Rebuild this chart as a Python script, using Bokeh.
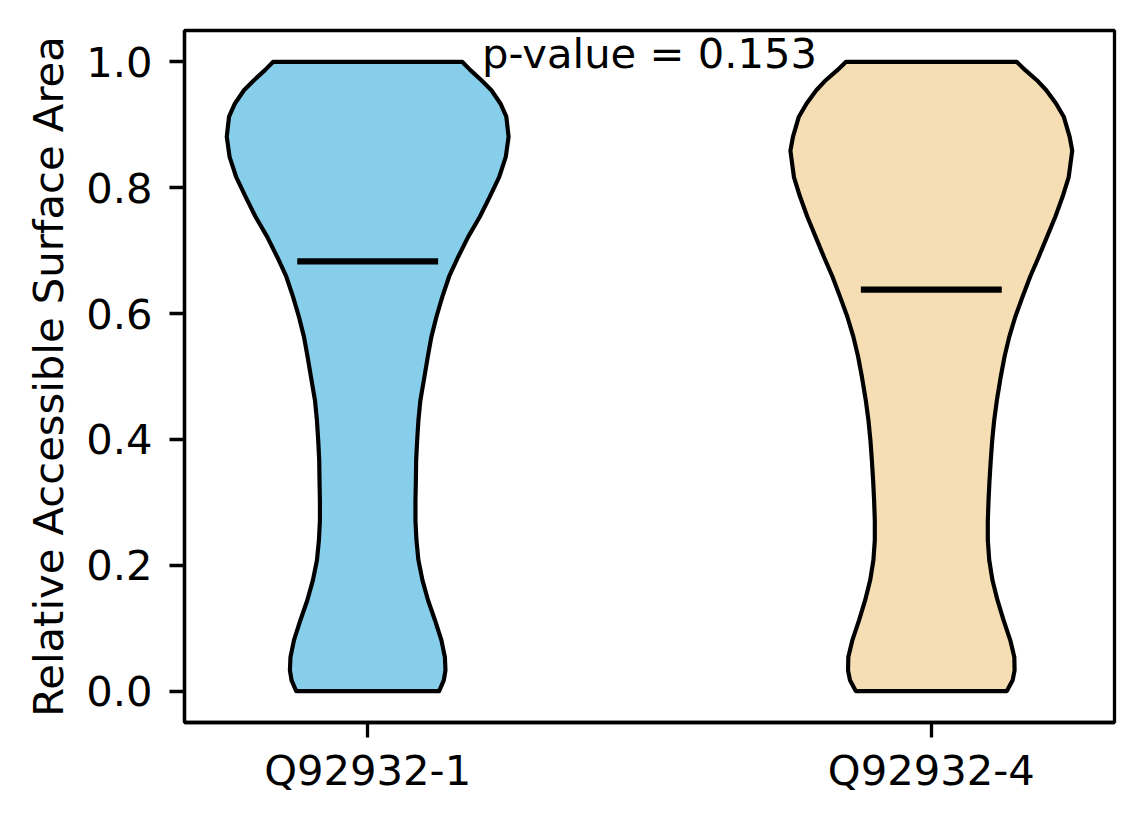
from bokeh.plotting import figure
from bokeh.models import Range1d, FixedTicker, Label
from bokeh.embed import file_html
from bokeh.resources import INLINE

# ---------------- data ----------------
categories = ["Q92932-1", "Q92932-4"]
positions = [1, 2]
colors = ["#87CEEB", "#F5DEB3"]
means = [0.683, 0.638]
p_value_text = "p-value = 0.153"
y_ticks = [0.0, 0.2, 0.4, 0.6, 0.8, 1.0]
y_label = "Relative Accessible Surface Area"

# violin density profiles (relative half-width, max = 1) at RSA levels
v1_y = [1.0, 0.987, 0.971, 0.955, 0.934, 0.913, 0.881, 0.849, 0.817, 0.786, 0.754, 0.722,
        0.690, 0.659, 0.627, 0.595, 0.563, 0.532, 0.500, 0.462, 0.430, 0.398, 0.367, 0.335,
        0.303, 0.271, 0.240, 0.208, 0.176, 0.144, 0.113, 0.081, 0.054, 0.033, 0.017, 0.0]
v1_w = [0.672, 0.729, 0.807, 0.878, 0.942, 0.984, 1.0, 0.980, 0.933, 0.867, 0.796, 0.713,
        0.642, 0.578, 0.530, 0.488, 0.452, 0.427, 0.403, 0.374, 0.360, 0.351, 0.344, 0.342,
        0.339, 0.339, 0.346, 0.360, 0.389, 0.429, 0.477, 0.523, 0.548, 0.552, 0.540, 0.507]

v2_y = [1.0, 0.987, 0.971, 0.955, 0.934, 0.913, 0.881, 0.859, 0.849, 0.817, 0.786, 0.754,
        0.722, 0.690, 0.659, 0.627, 0.595, 0.563, 0.532, 0.500, 0.462, 0.430, 0.398, 0.367,
        0.335, 0.303, 0.271, 0.240, 0.208, 0.176, 0.144, 0.113, 0.081, 0.054, 0.033, 0.017, 0.0]
v2_w = [0.607, 0.667, 0.749, 0.816, 0.885, 0.940, 0.982, 1.0, 0.994, 0.975, 0.932, 0.880,
        0.821, 0.762, 0.702, 0.648, 0.596, 0.553, 0.520, 0.493, 0.465, 0.446, 0.432, 0.422,
        0.413, 0.406, 0.401, 0.401, 0.411, 0.434, 0.470, 0.512, 0.560, 0.589, 0.591, 0.577, 0.536]

profiles = [(v1_y, v1_w), (v2_y, v2_w)]
violin_width = 0.5

FONT = "DejaVu Sans"
FS = "41.7px"

p = figure(width=1128, height=808, output_backend="svg", toolbar_location=None,
           x_range=Range1d(0.675, 2.325), y_range=Range1d(-0.05, 1.05))
p.min_border_left = 184
p.min_border_right = 14
p.min_border_top = 30
p.min_border_bottom = 86
p.background_fill_color = "white"
p.border_fill_color = "white"
p.xgrid.visible = False
p.ygrid.visible = False
p.outline_line_color = "black"
p.outline_line_width = 3.3

for pos, (ys, ws), col in zip(positions, profiles, colors):
    half = [violin_width / 2 * w for w in ws]
    xs = [pos + h for h in half] + [pos - h for h in reversed(half)]
    yy = list(ys) + list(reversed(ys))
    p.patch(xs, yy, fill_color=col, fill_alpha=1.0, line_color="black",
            line_width=4.17, line_join="round")

for pos, m in zip(positions, means):
    p.segment(x0=[pos - violin_width / 4], x1=[pos + violin_width / 4], y0=[m], y1=[m],
              line_color="black", line_width=6.25)

p.add_layout(Label(x=1.5, y=1.014, text=p_value_text, text_align="center",
                   text_baseline="alphabetic", text_font=FONT, text_font_size=FS,
                   text_color="black"))

for ax in (p.xaxis[0], p.yaxis[0]):
    ax.axis_line_color = "black"
    ax.axis_line_width = 3.3
    ax.major_tick_line_width = 3.3
    ax.major_tick_out = 15
    ax.major_tick_in = 0
    ax.minor_tick_line_color = None
    ax.major_label_text_font = FONT
    ax.major_label_text_font_size = FS
    ax.major_label_text_color = "black"

p.xaxis.major_label_standoff = 8
p.yaxis.major_label_standoff = 17
p.xaxis.ticker = FixedTicker(ticks=positions)
p.xaxis.major_label_overrides = {pos: c for pos, c in zip(positions, categories)}
p.yaxis.ticker = FixedTicker(ticks=y_ticks)
p.yaxis.major_label_overrides = {t: "%.1f" % t for t in y_ticks}
p.yaxis.axis_label = y_label
p.yaxis.axis_label_text_font = FONT
p.yaxis.axis_label_text_font_size = FS
p.yaxis.axis_label_text_font_style = "normal"
p.yaxis.axis_label_text_color = "black"
p.yaxis.axis_label_standoff = 10

open("out.html", "w").write(file_html(p, INLINE))
